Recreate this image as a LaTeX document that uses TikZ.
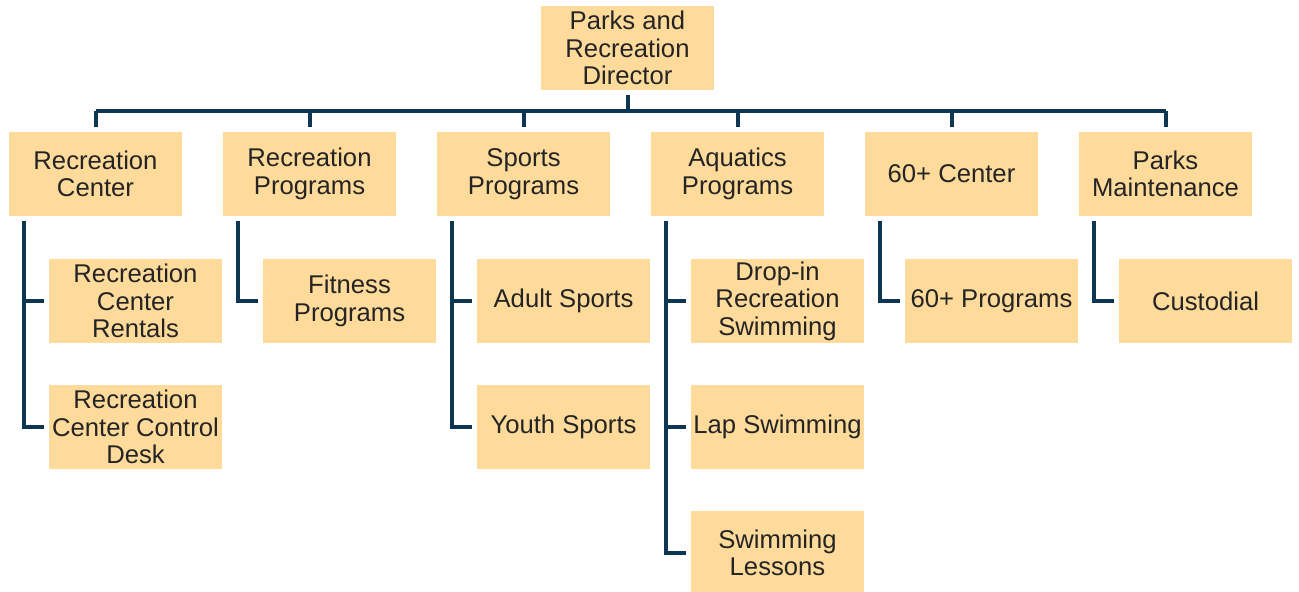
\documentclass[tikz,border=0pt]{standalone}
\usepackage{fontspec}
\setmainfont{Liberation Sans}
\usetikzlibrary{positioning}
\definecolor{boxfill}{HTML}{FEDA9B}
\definecolor{linkblue}{HTML}{0D3652}
\definecolor{inktext}{HTML}{242424}

\begin{document}
\begin{tikzpicture}[
  node distance=0.62cm,
  box/.style={fill=boxfill, text=inktext, minimum width=3.46cm, minimum height=1.68cm,
    inner sep=0pt, outer sep=0.1cm, align=center, font=\fontsize{14.6}{15.7}\selectfont},
  link/.style={draw=linkblue, line width=0.08cm},
]
\useasboundingbox (0,0) rectangle (25.98,-11.84);

\node[box, anchor=north] (dir) at (12.55,-0.02) {Parks and\\Recreation\\Director};

% second row
\node[box, anchor=north west] (rc) at (0.08,-2.54) {Recreation\\Center};
\node[box, right=of rc] (rp) {Recreation\\Programs};
\node[box, right=of rp] (sp) {Sports\\Programs};
\node[box, right=of sp] (ap) {Aquatics\\Programs};
\node[box, right=of ap] (sc) {60+ Center};
\node[box, right=of sc] (pm) {Parks\\Maintenance};

% third row
\node[box, below right=0.66cm and 0.8cm of rc.south west] (rcr) {Recreation\\Center\\Rentals};
\node[box, below=0.64cm of rcr] (rcd) {Recreation\\Center Control\\Desk};
\node[box, below right=0.66cm and 0.8cm of rp.south west] (fit) {Fitness\\Programs};
\node[box, below right=0.66cm and 0.8cm of sp.south west] (adult) {Adult Sports};
\node[box, below=0.64cm of adult] (youth) {Youth Sports};
\node[box, below right=0.66cm and 0.8cm of ap.south west] (drop) {Drop-in\\Recreation\\Swimming};
\node[box, below=0.64cm of drop] (lap) {Lap Swimming};
\node[box, below=0.64cm of lap] (lessons) {Swimming\\Lessons};
\node[box, below right=0.66cm and 0.8cm of sc.south west] (scp) {60+ Programs};
\node[box, below right=0.66cm and 0.8cm of pm.south west] (cust) {Custodial};

% director to second row
\coordinate[below=0.32cm of dir.south] (bus);
\draw[link] (dir.south) -- (bus);
\draw[link] (rc.north |- bus) -- (pm.north |- bus);
\foreach \n in {rc,rp,sp,ap,sc,pm}
  \draw[link] (\n.north |- bus) -- (\n.north);

% second row to third row
\draw[link] ([xshift=0.4cm]rc.south west) |- (rcr.west);
\draw[link] ([xshift=0.4cm]rc.south west) |- (rcd.west);
\draw[link] ([xshift=0.4cm]rp.south west) |- (fit.west);
\draw[link] ([xshift=0.4cm]sp.south west) |- (adult.west);
\draw[link] ([xshift=0.4cm]sp.south west) |- (youth.west);
\draw[link] ([xshift=0.4cm]ap.south west) |- (drop.west);
\draw[link] ([xshift=0.4cm]ap.south west) |- (lap.west);
\draw[link] ([xshift=0.4cm]ap.south west) |- (lessons.west);
\draw[link] ([xshift=0.4cm]sc.south west) |- (scp.west);
\draw[link] ([xshift=0.4cm]pm.south west) |- (cust.west);

\end{tikzpicture}
\end{document}
